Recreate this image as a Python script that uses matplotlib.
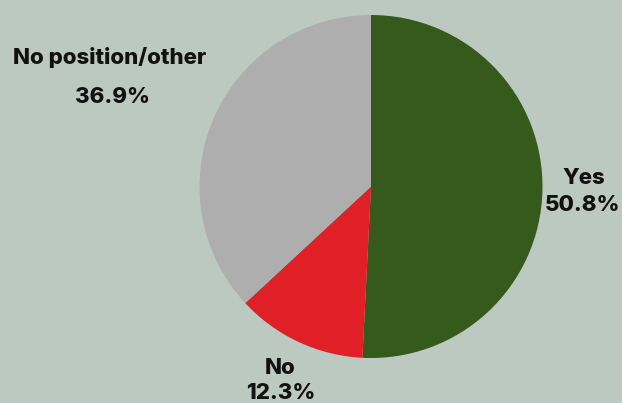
import matplotlib.pyplot as plt

# Share of answers (percent)
categories = ["Yes", "No", "No position/other"]
shares = [50.8, 12.3, 36.9]
colors = ["#355a1b", "#e01f27", "#aeaeae"]

bg = "#bbc9c0"

fig = plt.figure(figsize=(6.22, 4.03), dpi=100, facecolor=bg)
ax = fig.add_axes([0, 0, 1, 1])
ax.set_facecolor(bg)

# work in pixel-like coordinates so the pie sits where the original does
ax.pie(shares, colors=colors, startangle=90, counterclock=False,
       center=(371, 403 - 186.5), radius=171.5,
       wedgeprops=dict(linewidth=0))
ax.set_xlim(0, 622)
ax.set_ylim(0, 403)
ax.set_aspect("equal")
ax.axis("off")

font = dict(family=["Inter", "DejaVu Sans"], fontweight=800,
            fontsize=16, ha="center", va="center", color="#111111")

# label positions (pixels from top-left) for name and percent lines
name_pos = {"Yes": (584, 178), "No": (280, 368), "No position/other": (110, 58)}
pct_pos = {"Yes": (583, 205), "No": (281, 393), "No position/other": (113, 97)}

for cat, val in zip(categories, shares):
    x, y = name_pos[cat]
    ax.text(x, 403 - y, cat, **font)
    x, y = pct_pos[cat]
    ax.text(x, 403 - y, f"{val}%", **font)

fig.savefig("out.png", dpi=100, facecolor=bg)
